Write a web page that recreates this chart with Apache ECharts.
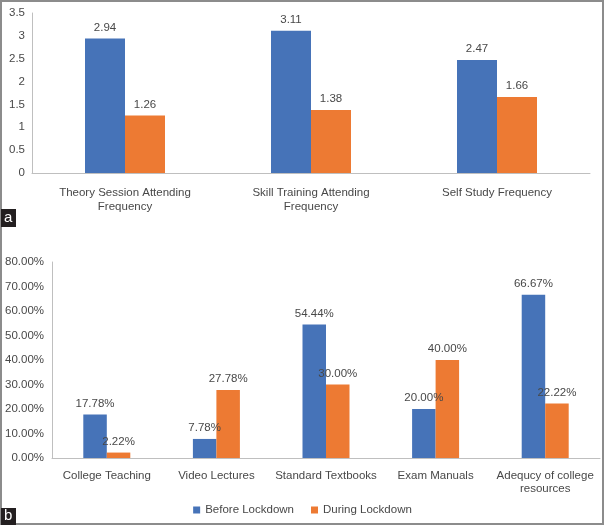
<!DOCTYPE html>
<html>
<head>
<meta charset="utf-8">
<script src="https://cdn.jsdelivr.net/npm/echarts@6/dist/echarts.min.js"></script>
<style>html,body{margin:0;padding:0;background:#fff;}#c{width:605px;height:525px;}</style>
</head>
<body>
<div id="c"></div>
<script>
var catsA = ['Theory Session Attending\nFrequency', 'Skill Training Attending\nFrequency', 'Self Study Frequency'];
var beforeA = [2.94, 3.11, 2.47];
var duringA = [1.26, 1.38, 1.66];
var catsB = ['College Teaching', 'Video Lectures', 'Standard Textbooks', 'Exam Manuals', 'Adequcy of college\nresources'];
var beforeB = [17.78, 7.78, 54.44, 20.00, 66.67];
var duringB = [2.22, 27.78, 30.00, 40.00, 22.22];
var seriesNames = ['Before Lockdown', 'During Lockdown'];

var FONT = 'Liberation Sans, Arial, sans-serif';
var TXT = '#484848';
var AX = '#bfbfbf';
var BLUE = '#4673B8', ORANGE = '#ED7A33';

var chart = echarts.init(document.getElementById('c'), null, {renderer: 'canvas'});
var lblA = {show: true, position: 'top', distance: 5, color: TXT, fontSize: 11.5, fontFamily: FONT};
var lblB = {show: true, position: 'top', distance: 5, color: TXT, fontSize: 11.5, fontFamily: FONT,
  formatter: function (p) { return p.value.toFixed(2) + '%'; }};

chart.setOption({
  animation: false,
  textStyle: {fontFamily: FONT},
  grid: [
    {left: 32, top: 13, width: 558, height: 160},
    {left: 52, top: 262, width: 548, height: 196}
  ],
  legend: {
    data: seriesNames, bottom: 4, left: 'center', itemWidth: 7, itemHeight: 7, itemGap: 17,
    icon: 'rect', textStyle: {color: TXT, fontSize: 11.5, fontFamily: FONT}
  },
  xAxis: [
    {type: 'category', gridIndex: 0, data: catsA,
     axisLine: {lineStyle: {color: AX}}, axisTick: {show: false},
     axisLabel: {color: TXT, fontSize: 11.5, fontFamily: FONT, margin: 13, lineHeight: 14, interval: 0}},
    {type: 'category', gridIndex: 1, data: catsB,
     axisLine: {lineStyle: {color: AX}}, axisTick: {show: false},
     axisLabel: {color: TXT, fontSize: 11.5, fontFamily: FONT, margin: 11, lineHeight: 13, interval: 0}}
  ],
  yAxis: [
    {type: 'value', gridIndex: 0, min: 0, max: 3.5, interval: 0.5,
     axisLine: {show: true, lineStyle: {color: AX}}, axisTick: {show: false}, splitLine: {show: false},
     axisLabel: {color: TXT, fontSize: 11.5, fontFamily: FONT, margin: 7}},
    {type: 'value', gridIndex: 1, min: 0, max: 80, interval: 10,
     axisLine: {show: true, lineStyle: {color: AX}}, axisTick: {show: false}, splitLine: {show: false},
     axisLabel: {color: TXT, fontSize: 11.5, fontFamily: FONT, margin: 8,
       formatter: function (v) { return v.toFixed(2) + '%'; }}}
  ],
  series: [
    {name: seriesNames[0], type: 'bar', xAxisIndex: 0, yAxisIndex: 0, data: beforeA, barWidth: 40, barGap: '0%',
     itemStyle: {color: BLUE}, label: lblA},
    {name: seriesNames[1], type: 'bar', xAxisIndex: 0, yAxisIndex: 0, data: duringA, barWidth: 40, barGap: '0%',
     itemStyle: {color: ORANGE}, label: lblA},
    {name: seriesNames[0], type: 'bar', xAxisIndex: 1, yAxisIndex: 1, data: beforeB, barWidth: 23.5, barGap: '0%',
     itemStyle: {color: BLUE}, label: lblB},
    {name: seriesNames[1], type: 'bar', xAxisIndex: 1, yAxisIndex: 1, data: duringB, barWidth: 23.5, barGap: '0%',
     itemStyle: {color: ORANGE}, label: lblB}
  ],
  graphic: [
    {type: 'rect', shape: {x: 1, y: 1, width: 602, height: 523}, style: {fill: 'none', stroke: '#8c8c8c', lineWidth: 2}, z: 100},
    {type: 'rect', shape: {x: 1, y: 209, width: 15, height: 18}, style: {fill: '#231f20'}, z: 101},
    {type: 'text', left: 4, top: 210, style: {text: 'a', fill: '#fff', font: '15px ' + FONT}, z: 102},
    {type: 'rect', shape: {x: 1, y: 508, width: 15, height: 17}, style: {fill: '#231f20'}, z: 101},
    {type: 'text', left: 4, top: 508, style: {text: 'b', fill: '#fff', font: '15px ' + FONT}, z: 102}
  ]
});
</script>
</body>
</html>
